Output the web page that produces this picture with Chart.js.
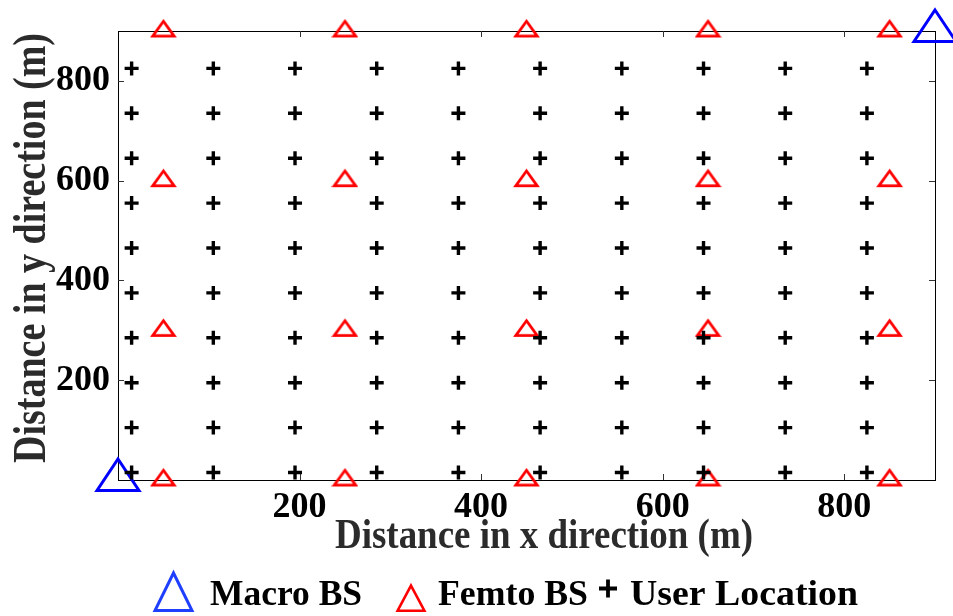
<!DOCTYPE html>
<html>
<head>
<meta charset="utf-8">
<script src="https://cdn.jsdelivr.net/npm/chart.js@4/dist/chart.umd.min.js"></script>
<style>
  html, body { margin: 0; padding: 0; background: #ffffff; }
  canvas { display: block; }
</style>
</head>
<body>
<canvas id="layout" width="953" height="616"></canvas>
<script>
// Network layout: macro base stations, femto base stations and user positions (metres)
const userX = [15, 105, 195, 285, 375, 465, 555, 645, 735, 825];
const userY = [15, 105, 195, 285, 375, 465, 555, 645, 735, 825];
const femtoX = [50, 250, 450, 650, 850];
const femtoY = [0, 300, 600, 900];
const macroX = [0, 900];
const macroY = [0, 900];

const xTickValues = [200, 400, 600, 800];
const yTickValues = [200, 400, 600, 800];
const seriesNames = ['Macro BS', 'Femto BS', 'User Location'];
const xTitle = 'Distance in x direction (m)';
const yTitle = 'Distance in y direction (m)';

const MACRO_COLOR = '#0000ff';
const FEMTO_COLOR = '#ff0000';
const USER_COLOR = '#000000';
const SERIF = '"Liberation Serif", "Times New Roman", serif';

// Point lists built from the coordinate arrays
const macroPoints = macroX.map((x, i) => ({ x: x, y: macroY[i] }));
const femtoPoints = [];
femtoY.forEach(y => femtoX.forEach(x => femtoPoints.push({ x: x, y: y })));
const userPoints = [];
userY.forEach(y => userX.forEach(x => userPoints.push({ x: x, y: y })));

// Outline triangle path inside a w x h box at (x0, y0)
function trianglePath(ctx, x0, y0, w, h, lw) {
  ctx.beginPath();
  ctx.moveTo(x0 + w / 2, y0 + lw);
  ctx.lineTo(x0 + w - lw, y0 + h - lw / 2);
  ctx.lineTo(x0 + lw, y0 + h - lw / 2);
  ctx.closePath();
}

// Triangle marker image whose centre sits on the triangle's centroid
function triangleMarker(w, h, lw, color) {
  const c = document.createElement('canvas');
  c.width = w;
  c.height = Math.round(h * 4 / 3);
  const g = c.getContext('2d');
  g.strokeStyle = color;
  g.lineWidth = lw;
  g.lineJoin = 'miter';
  trianglePath(g, 0, 0, w, h, lw);
  g.stroke();
  return c;
}

const macroMarker = triangleMarker(48, 36, 3, MACRO_COLOR);
const femtoMarker = triangleMarker(27, 19, 2.8, FEMTO_COLOR);

// Draw text left-aligned at x, fitted to a given width
function fittedText(ctx, text, x, y, width) {
  const w = ctx.measureText(text).width;
  ctx.save();
  ctx.translate(x, y);
  ctx.scale(width / w, 1);
  ctx.fillText(text, 0, 0);
  ctx.restore();
}

// Axes box with inward tick marks
const framePlugin = {
  id: 'frame',
  beforeDatasetsDraw(chart) {
    const { ctx, chartArea: a, scales } = chart;
    ctx.save();
    ctx.strokeStyle = '#000000';
    ctx.lineWidth = 1;
    ctx.strokeRect(Math.round(a.left) + 0.5, Math.round(a.top) + 0.5,
                   Math.round(a.right - a.left), Math.round(a.bottom - a.top));
    ctx.strokeStyle = '#333333';
    const len = 6;
    ctx.beginPath();
    xTickValues.forEach(v => {
      const px = Math.round(scales.x.getPixelForValue(v)) + 0.5;
      ctx.moveTo(px, a.bottom); ctx.lineTo(px, a.bottom - len);
      ctx.moveTo(px, a.top); ctx.lineTo(px, a.top + len);
    });
    yTickValues.forEach(v => {
      const py = Math.round(scales.y.getPixelForValue(v)) + 0.5;
      ctx.moveTo(a.left, py); ctx.lineTo(a.left + len, py);
      ctx.moveTo(a.right, py); ctx.lineTo(a.right - len, py);
    });
    ctx.stroke();
    ctx.restore();
  }
};

// Axis titles and the horizontal legend underneath the plot
const annotationPlugin = {
  id: 'annotations',
  afterDraw(chart) {
    const ctx = chart.ctx;
    ctx.save();

    // x axis title
    ctx.fillStyle = '#2b2b2b';
    ctx.font = 'bold 42px ' + SERIF;
    ctx.textAlign = 'center';
    ctx.textBaseline = 'alphabetic';
    let w = ctx.measureText(xTitle).width;
    ctx.save();
    ctx.translate(544, 548);
    ctx.scale(418 / w, 1);
    ctx.fillText(xTitle, 0, 0);
    ctx.restore();

    // y axis title
    ctx.font = 'bold 46px ' + SERIF;
    w = ctx.measureText(yTitle).width;
    ctx.save();
    ctx.translate(45, 248);
    ctx.rotate(-Math.PI / 2);
    ctx.scale(430 / w, 1);
    ctx.fillText(yTitle, 0, 0);
    ctx.restore();

    // legend: marker then label for each series
    ctx.fillStyle = '#000000';
    ctx.font = 'bold 36px ' + SERIF;
    ctx.textAlign = 'left';
    const base = 605;

    ctx.strokeStyle = '#1f3fff';
    ctx.lineWidth = 3;
    trianglePath(ctx, 152, 570, 43, 42, 3);
    ctx.stroke();
    fittedText(ctx, seriesNames[0], 210, base, 152);

    ctx.strokeStyle = FEMTO_COLOR;
    ctx.lineWidth = 2.6;
    trianglePath(ctx, 395, 583, 32, 29, 2.6);
    ctx.stroke();
    fittedText(ctx, seriesNames[1], 438, base, 150);

    ctx.strokeStyle = USER_COLOR;
    ctx.lineWidth = 3.8;
    ctx.beginPath();
    ctx.moveTo(599, 588.5); ctx.lineTo(617, 588.5);
    ctx.moveTo(608, 579.5); ctx.lineTo(608, 597.5);
    ctx.stroke();
    fittedText(ctx, seriesNames[2], 630, base, 228);

    ctx.restore();
  }
};

const tickFont = { family: SERIF, size: 36, weight: 'bold' };

new Chart(document.getElementById('layout'), {
  type: 'scatter',
  data: {
    datasets: [
      {
        label: seriesNames[2],
        data: userPoints,
        pointStyle: 'cross',
        pointRadius: 7,
        pointHoverRadius: 7,
        pointBorderWidth: 3.4,
        borderColor: USER_COLOR,
        backgroundColor: USER_COLOR,
        order: 0,
        clip: false
      },
      {
        label: seriesNames[1],
        data: femtoPoints,
        pointStyle: femtoMarker,
        pointRadius: 12,
        borderColor: FEMTO_COLOR,
        backgroundColor: 'rgba(0,0,0,0)',
        order: 1,
        clip: false
      },
      {
        label: seriesNames[0],
        data: macroPoints,
        pointStyle: macroMarker,
        pointRadius: 24,
        borderColor: MACRO_COLOR,
        backgroundColor: 'rgba(0,0,0,0)',
        order: 2,
        clip: false
      }
    ]
  },
  options: {
    responsive: false,
    animation: false,
    events: [],
    layout: { autoPadding: false, padding: { left: 0, top: 31, right: 18, bottom: 0 } },
    plugins: {
      legend: { display: false },
      tooltip: { enabled: false },
      title: { display: false }
    },
    scales: {
      x: {
        type: 'linear',
        min: 0,
        max: 900,
        grid: { display: false, drawTicks: false },
        border: { display: false },
        afterBuildTicks: s => { s.ticks = xTickValues.map(v => ({ value: v })); },
        afterFit: s => { s.height = 136; s.paddingLeft = 0; s.paddingRight = 0; },
        ticks: { font: tickFont, color: '#000000', padding: 6, maxRotation: 0, autoSkip: false }
      },
      y: {
        type: 'linear',
        min: 0,
        max: 900,
        grid: { display: false, drawTicks: false },
        border: { display: false },
        afterBuildTicks: s => { s.ticks = yTickValues.map(v => ({ value: v })); },
        afterFit: s => { s.width = 118; s.paddingTop = 0; s.paddingBottom = 0; },
        ticks: { font: tickFont, color: '#000000', padding: 8, autoSkip: false }
      }
    }
  },
  plugins: [framePlugin, annotationPlugin]
});
</script>
</body>
</html>
